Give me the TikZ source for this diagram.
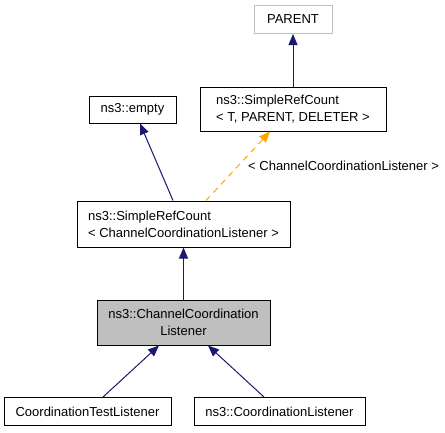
\documentclass[tikz,border=0pt]{standalone}
\usepackage{fontspec}
\setmainfont{Liberation Sans}
\usetikzlibrary{arrows.meta}
\definecolor{navy}{HTML}{191970}
\definecolor{dxorange}{HTML}{FFA500}
\definecolor{dxgray}{HTML}{BFBFBF}
\begin{document}
\begin{tikzpicture}[x=1pt,y=-1pt,
  cls/.style={draw=black,line width=1pt,inner sep=0pt,align=center,font=\fontsize{13}{17}\selectfont},
  edge/.style={draw=navy,line width=1pt,-{Triangle[length=11pt,width=9pt]}},
  tmpl/.style={draw=dxorange,line width=1pt,dash pattern=on 6pt off 5pt,-{Triangle[length=11pt,width=9pt]}},
  lbl/.style={font=\fontsize{13}{17}\selectfont,inner sep=0pt}]
\useasboundingbox (0,0) rectangle (445,432);
\node[cls,draw=dxgray,minimum width=78pt,minimum height=28pt] (parent) at (293,19.5) {PARENT};
\node[cls,align=left,minimum width=186pt,minimum height=44pt] (srct) at (293,109) {ns3::SimpleRefCount\\< T, PARENT, DELETER >};
\node[cls,minimum width=87pt,minimum height=27pt] (empty) at (132.5,109.5) {ns3::empty};
\node[cls,align=left,minimum width=213pt,minimum height=46pt] (srcc) at (183.5,224) {ns3::SimpleRefCount\\< ChannelCoordinationListener >};
\node[cls,fill=dxgray,minimum width=173pt,minimum height=45pt] (ccl) at (183.5,322.5) {ns3::ChannelCoordination\\Listener};
\node[cls,minimum width=167pt,minimum height=28pt] (ctl) at (87.5,411.5) {CoordinationTestListener};
\node[cls,minimum width=171pt,minimum height=28pt] (cl) at (279.5,411.5) {ns3::CoordinationListener};
\draw[edge] (srct.north) -- (parent.south);
\draw[edge] ([xshift=-10.5pt]srcc.north) -- ([xshift=7.5pt]empty.south);
\draw[tmpl] ([xshift=22.5pt]srcc.north) -- ([xshift=-23pt]srct.south);
\node[lbl,anchor=west] (tlabel) at (248,166) {< ChannelCoordinationListener >};
\draw[edge] (ccl.north) -- (srcc.south);
\draw[edge] ([xshift=15.5pt]ctl.north) -- ([xshift=-24.5pt]ccl.south);
\draw[edge] ([xshift=-15.5pt]cl.north) -- ([xshift=24.5pt]ccl.south);
\end{tikzpicture}
\end{document}
